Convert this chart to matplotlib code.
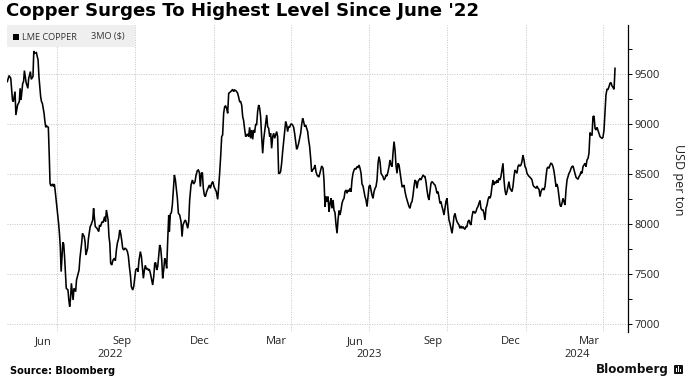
import numpy as np
import matplotlib
matplotlib.use("Agg")
import matplotlib.pyplot as plt
import matplotlib.dates as mdates
from matplotlib.patches import Rectangle, FancyBboxPatch

# LME copper 3M price (days counted from start_date)
start_date = "2022-05-04"
day = [0, 2, 4, 6, 7, 9, 10, 12, 14, 15, 16, 18, 19, 20, 22, 24, 25, 27, 28, 30,
       31, 32, 34, 36, 37, 39, 40, 41, 43, 44, 45, 46, 48, 49, 50, 51, 53, 54, 55, 56,
       58, 60, 61, 62, 63, 65, 66, 67, 68, 69, 71, 72, 73, 74, 75, 76, 77, 78, 80, 81,
       82, 84, 85, 87, 88, 90, 91, 92, 94, 95, 97, 98, 100, 101, 102, 103, 105, 107, 108, 109,
       111, 112, 114, 115, 116, 118, 119,
       120, 121, 122.2, 123.8, 125.3, 126.5, 127.7, 128.8, 130.4, 131.6, 132.7, 133.9, 135.1, 136.3,
       137.8, 139.4, 140.6, 141.7, 142.9, 144.1, 145.2, 146.8, 148.0, 149.1, 150.3, 151.9, 153.0,
       154.2, 155.8, 157.0, 158.1, 159.3, 160.5, 161.6, 162.8, 164.0, 165.1, 166.3, 167.5, 168.7,
       170.2, 171.4, 172.6, 173.7, 174.9, 176.1, 177.2, 178.4, 179.6, 180.8, 181.9, 183.1, 184.3,
       185.4, 186.6, 187.8, 189.0, 189.7, 190.9, 192.1, 193.2, 194.4, 195.6, 196.8, 197.9, 199.1,
       200.3, 201.8, 203.4, 204.6, 205.7, 207.3, 208.5, 209.6, 211.2, 212.4, 213.5, 215.1, 216.7,
       218.2, 219.8, 221.0, 222.5, 223.7, 224.9, 226.0, 227.2, 228.4, 229.5, 230.7, 231.9, 233.4,
       235.0, 236.6, 237.7, 239.3, 240.5, 242.0,
       244.7, 246.3, 247.5, 248.6, 249.8, 251.0, 252.1, 253.3, 254.5, 255.6, 256.8, 258.0, 259.2,
       260.3, 261.5, 262.7, 263.8, 265.0, 266.2, 267.4, 268.5, 269.7, 270.9, 272.0, 273.2, 274.4,
       275.6, 276.7, 277.9, 279.1, 280.2, 281.4, 282.6, 283.7, 284.9, 286.1, 287.3, 288.4, 289.6,
       290.8, 291.9, 293.1, 294.3, 295.5, 296.6, 297.8, 299.0, 300.1, 301.3, 302.5, 303.7, 304.8,
       306.0, 307.2, 308.3, 309.5, 310.7, 311.9, 313.0, 314.2, 315.4, 316.5, 317.7, 318.9, 320.0,
       321.2, 322.4, 323.6, 324.7, 325.9, 327.1, 328.2, 329.4, 330.6, 331.8, 332.9, 334.1, 335.3,
       336.4, 337.6, 338.8, 339.9, 341.1, 342.3, 343.5, 344.6, 345.8, 347.0, 348.2, 349.3, 350.5,
       351.7, 352.8, 354.0, 355.2, 356.3, 357.5, 359.1, 360.3, 361.4, 362.6, 364.2,
       365.0, 366.5, 368.1, 369.7, 370.8, 372.0, 373.2, 374.4, 375.5, 376.7, 377.9, 379.0, 380.2,
       381.4, 382.5, 383.7, 384.9, 386.1, 387.2, 388.4, 389.6, 390.7, 391.9, 393.1, 394.3, 395.4,
       396.6, 397.8, 398.9, 400.1, 401.3, 402.5, 403.6, 404.8, 406.0, 407.1, 408.3, 409.5, 410.7,
       411.8, 413.0, 414.2, 415.3, 416.5, 417.7, 418.8, 420.0, 421.2, 422.4, 423.5, 424.7, 425.9,
       427.0, 428.2, 429.4, 430.6, 431.7, 432.9, 434.1, 435.2, 436.4, 437.6, 438.8, 439.9, 441.1,
       442.3, 443.4, 444.6, 445.8, 447.0, 448.1, 449.3, 450.5, 451.6, 452.8, 454.0, 455.1, 456.3,
       457.5, 458.7, 459.8, 461.0, 462.2, 463.3, 464.5, 465.7, 466.9, 468.0, 469.2, 470.4, 471.5,
       472.7, 473.9, 475.1, 476.2, 477.4, 478.6, 479.7, 480.9, 482.1, 483.3, 484.4, 485.6, 486.8,
       488.3,
       489.1, 490.2, 491.4, 492.6, 493.7, 494.9, 496.1, 497.3, 498.4, 499.6, 500.8, 501.9, 503.1,
       504.3, 505.4, 506.6, 507.8, 509.0, 510.1, 511.3, 512.5, 513.6, 514.8, 516.0, 517.2, 518.3,
       519.5, 520.7, 521.8, 523.0, 524.2, 525.4, 526.5, 527.7, 528.9, 530.0, 531.2, 532.4, 533.6,
       534.7, 535.9, 537.1, 538.2, 539.4, 540.6, 541.7, 542.9, 544.1, 545.3, 546.4, 547.6, 548.8,
       549.9, 551.1, 552.3, 553.5, 554.6, 555.8, 557.0, 558.1, 559.3, 560.5, 561.7, 562.8, 564.0,
       565.2, 566.3, 567.5, 568.7, 569.8, 571.0, 572.2, 573.4, 574.5, 575.7, 576.9, 578.0, 579.2,
       580.4, 581.6, 582.7, 583.9, 585.1, 586.2, 587.4, 588.6, 589.8, 590.9, 592.1, 593.3, 594.4,
       595.6, 596.8, 597.9, 599.1, 600.3, 601.5, 602.6, 603.8, 605.0, 606.2, 607.3, 608.5, 609.7,
       611.2,
       612.1, 613.2, 614.4, 615.6, 616.7, 617.9, 619.1, 620.3, 621.4, 622.6, 623.8, 624.9, 626.1,
       627.3, 628.4, 629.6, 630.8, 632.0, 633.1, 634.3, 635.5, 636.6, 637.8, 639.0, 640.2, 641.3,
       642.5, 643.7, 644.8, 646.0, 647.2, 648.4, 649.5, 650.7, 651.9, 653.0, 654.2, 655.4, 656.6,
       657.7, 658.9, 660.1, 661.2, 662.4, 663.6, 664.7, 665.9, 667.1, 668.3, 669.4, 670.6, 671.8,
       672.9, 674.1, 675.3, 676.5, 677.6, 678.8, 680.0, 681.1, 682.3, 683.5, 684.7, 685.8, 687.0,
       688.2, 689.3, 690.5, 691.7, 692.9, 694.0, 695.2, 696.4, 697.5, 698.7, 699.9, 701.0, 702.2,
       703.4, 704.6, 705.7, 706.9, 708.1, 709.2, 710.4, 710.8, 711.6]

price = [9427, 9487, 9460, 9243, 9227, 9327, 9093, 9193, 9227, 9360, 9243, 9410, 9427, 9537, 9417, 9360, 9460, 9527, 9450, 9477,
         9733, 9710, 9717, 9643, 9477, 9277, 9227, 9210, 9110, 9027, 8970, 8983, 8970, 8710, 8410, 8383, 8403, 8377, 8403, 8337,
         8177, 8010, 7910, 7777, 7527, 7820, 7803, 7677, 7510, 7360, 7343, 7243, 7177, 7260, 7410, 7327, 7243, 7360, 7327, 7443,
         7477, 7543, 7660, 7810, 7910, 7877, 7827, 7693, 7760, 7860, 7977, 7993, 8043, 8160, 8060, 7977, 7960, 7927, 7993, 7977,
         8027, 8017, 8077, 8027, 8143, 8043, 7877,
         7810, 7610, 7593, 7643, 7660, 7637, 7743, 7810, 7860, 7943, 7910, 7843, 7760, 7743,
         7760, 7750, 7727, 7683, 7577, 7493, 7377, 7343, 7377, 7460, 7543, 7560, 7527,
         7643, 7727, 7677, 7577, 7460, 7543, 7590, 7550, 7560, 7543, 7550, 7510, 7460,
         7393, 7477, 7610, 7617, 7543, 7577, 7677, 7793, 7760, 7643, 7460, 7543, 7660,
         7627, 7560, 7843, 8093, 7927, 8103, 8117, 8193, 8343, 8493, 8443, 8360, 8260,
         8110, 8093, 8027, 7877, 7993, 8027, 8043, 8017, 7960, 8027, 8243, 8393, 8443,
         8403, 8427, 8493, 8537, 8543, 8517, 8377, 8510, 8517, 8360, 8293, 8277, 8327,
         8360, 8393, 8360, 8410, 8427, 8377,
         8327, 8250, 8377, 8510, 8677, 8877, 8893, 9110, 9177, 9183, 9160, 9110, 9310,
         9317, 9327, 9337, 9350, 9327, 9343, 9337, 9327, 9310, 9270, 9227, 9227, 9193,
         9077, 9037, 8950, 8877, 8893, 8903, 8877, 8970, 8860, 8943, 8850, 8943, 8917,
         9003, 8993, 9127, 9193, 9160, 9077, 8877, 8710, 8843, 8927, 9010, 9093, 8977,
         8960, 8877, 8910, 8760, 8877, 8910, 8860, 8893, 8927, 8877, 8510, 8510, 8527,
         8610, 8727, 8827, 8927, 9027, 8993, 8927, 8977, 8970, 9000, 9003, 8993, 8970,
         8910, 8827, 8750, 8770, 8810, 8860, 8910, 8993, 9060, 9027, 8977, 8993, 8960,
         8927, 8843, 8777, 8660, 8527, 8543, 8560, 8593, 8527, 8493, 8477,
         8477, 8527, 8583, 8560, 8443, 8177, 8277, 8227, 8277, 8127, 8210, 8260, 8160,
         8243, 8143, 8117, 7993, 7910, 8043, 8137, 8093, 8143, 8210, 8243, 8260, 8327,
         8343, 8310, 8343, 8327, 8360, 8327, 8443, 8510, 8543, 8560, 8550, 8577, 8570,
         8593, 8560, 8510, 8403, 8383, 8327, 8277, 8243, 8177, 8277, 8377, 8393, 8343,
         8293, 8260, 8327, 8360, 8377, 8443, 8610, 8677, 8627, 8510, 8493, 8477, 8443,
         8460, 8493, 8483, 8527, 8577, 8643, 8593, 8577, 8710, 8827, 8743, 8593, 8510,
         8610, 8593, 8527, 8460, 8377, 8377, 8393, 8327, 8277, 8243, 8210, 8177, 8160,
         8210, 8227, 8293, 8377, 8443, 8427, 8360, 8427, 8443, 8460, 8443, 8470, 8493,
         8477,
         8477, 8427, 8343, 8277, 8243, 8327, 8410, 8427, 8417, 8403, 8393, 8360, 8310,
         8327, 8277, 8210, 8227, 8177, 8143, 8093, 8160, 8227, 8260, 8143, 8043, 8010,
         7960, 7910, 7977, 8077, 8110, 8060, 8027, 8010, 7993, 7960, 7983, 7960, 7977,
         7960, 7950, 7977, 7977, 8027, 8043, 8010, 7993, 8077, 8127, 8127, 8110, 8127,
         8160, 8177, 8210, 8237, 8160, 8143, 8143, 8110, 8043, 8160, 8193, 8243, 8277,
         8260, 8293, 8377, 8443, 8393, 8427, 8410, 8443, 8417, 8460, 8443, 8477, 8543,
         8610, 8443, 8343, 8293, 8327, 8377, 8427, 8360, 8343, 8327, 8377, 8477, 8543,
         8527, 8510, 8577, 8593, 8583, 8593, 8627, 8693, 8643, 8577, 8560, 8510, 8493,
         8477,
         8470, 8460, 8443, 8393, 8377, 8370, 8360, 8383, 8360, 8350, 8277, 8327, 8350,
         8360, 8343, 8377, 8477, 8560, 8570, 8560, 8593, 8610, 8603, 8577, 8527, 8460,
         8377, 8403, 8360, 8277, 8193, 8177, 8210, 8260, 8227, 8193, 8343, 8443, 8477,
         8510, 8527, 8560, 8577, 8583, 8543, 8510, 8470, 8460, 8450, 8477, 8493, 8527,
         8510, 8577, 8593, 8610, 8577, 8643, 8660, 8710, 8917, 8893, 8893, 9077, 9083,
         8960, 8943, 8970, 8937, 8903, 8877, 8867, 8860, 8870, 8943, 9127, 9293, 9350,
         9350, 9377, 9410, 9417, 9383, 9370, 9350, 9410, 9560]

month_names = ["Jun", "Sep", "Dec", "Mar", "Jun", "Sep", "Dec", "Mar"]
month_label_dates = ["2022-06-15", "2022-09-15", "2022-12-15", "2023-03-15",
                     "2023-06-15", "2023-09-15", "2023-12-15", "2024-03-15"]
month_grid_dates = ["2022-07-01", "2022-10-01", "2023-01-01", "2023-04-01",
                    "2023-07-01", "2023-10-01", "2024-01-01", "2024-04-01"]
years = ["2022", "2023", "2024"]
year_label_dates = ["2022-09-01", "2023-07-02", "2024-03-01"]
y_major = [7000, 7500, 8000, 8500, 9000, 9500]
y_minor = [7250, 7750, 8250, 8750, 9250, 9750]

W, H = 691, 388
fig = plt.figure(figsize=(W / 100, H / 100), dpi=100)
ax = fig.add_axes([7 / W, 1 - 332 / H, 621 / W, 307 / H])

t0 = mdates.date2num(np.datetime64(start_date))
x = t0 + np.array(day)
ax.plot(x, price, color="black", lw=1.15, zorder=3, solid_joinstyle="miter")

ax.set_xlim(t0 - 0.4, t0 + 726.8)
ax.set_ylim(6923, 9993)

grid_kw = dict(color="#c4c4c4", lw=0.7, ls=(0, (1, 1.5)), zorder=1)
for v in y_major:
    ax.axhline(v, **grid_kw)
for d in month_grid_dates:
    ax.axvline(mdates.date2num(np.datetime64(d)), **grid_kw)

for s in ["top", "left", "bottom"]:
    ax.spines[s].set_visible(False)
ax.spines["right"].set_color("black")
ax.spines["right"].set_linewidth(0.9)

ax.yaxis.tick_right()
ax.set_yticks(y_major)
ax.set_yticks(y_minor, minor=True)
ax.tick_params(axis="y", which="both", direction="out", length=3, width=0.7,
               color="black", labelsize=8, labelcolor="#222222", pad=1.5)
for lab in ax.get_yticklabels():
    lab.set_family("Open Sans")

ax.set_xticks([])
for name, d in zip(month_names, month_label_dates):
    ax.text(mdates.date2num(np.datetime64(d)), -0.03, name, transform=ax.get_xaxis_transform(),
            ha="center", va="center", fontsize=8, color="#222222", family="Open Sans")
for name, d in zip(years, year_label_dates):
    ax.text(mdates.date2num(np.datetime64(d)), -0.073, name, transform=ax.get_xaxis_transform(),
            ha="center", va="center", fontsize=8, color="#222222", family="Open Sans")

fig.text(678 / W, 1 - 180 / H, "USD per ton", rotation=-90, ha="center", va="center",
         fontsize=9, color="#222222", family="Open Sans")

# legend tag
fig.patches.append(Rectangle((7 / W, 1 - 47 / H), 128 / W, 22 / H, transform=fig.transFigure,
                             facecolor="#efefef", edgecolor="none", zorder=0.5))
fig.patches.append(Rectangle((13 / W, 1 - 40 / H), 6 / W, 6 / H, transform=fig.transFigure,
                             facecolor="black", edgecolor="none", zorder=5))
fig.text(22 / W, 1 - 37 / H, "LME COPPER", ha="left", va="center", fontsize=6.6,
         color="#333333", family="Open Sans", zorder=6)
fig.text(91 / W, 1 - 37 / H, "3MO ($)", ha="left", va="center", fontsize=6.6,
         color="#333333", family="Open Sans", zorder=6)

fig.text(6 / W, 1 - 11.5 / H, "Copper Surges To Highest Level Since June '22", ha="left", va="center",
         fontsize=13.1, fontweight="bold", color="black")
fig.text(10 / W, 1 - 371 / H, "Source: Bloomberg", ha="left", va="center",
         fontsize=7, fontweight="bold", color="black")
fig.text(669 / W, 1 - 369.5 / H, "Bloomberg", ha="right", va="center",
         fontsize=8.6, fontweight="bold", color="#111111")
# logo mark
fig.patches.append(FancyBboxPatch((674 / W, 1 - 374 / H), 9 / W, 9 / H, transform=fig.transFigure,
                                  boxstyle="round,pad=0,rounding_size=0.002",
                                  facecolor="#111111", edgecolor="none"))
for bx, bh in zip([676, 678, 680], [4, 6, 3]):
    fig.patches.append(Rectangle((bx / W, 1 - 372 / H), 1 / W, bh / H, transform=fig.transFigure,
                                 facecolor="white", edgecolor="none", zorder=3))

ax.patch.set_alpha(0)
fig.savefig("out.png", dpi=100)
